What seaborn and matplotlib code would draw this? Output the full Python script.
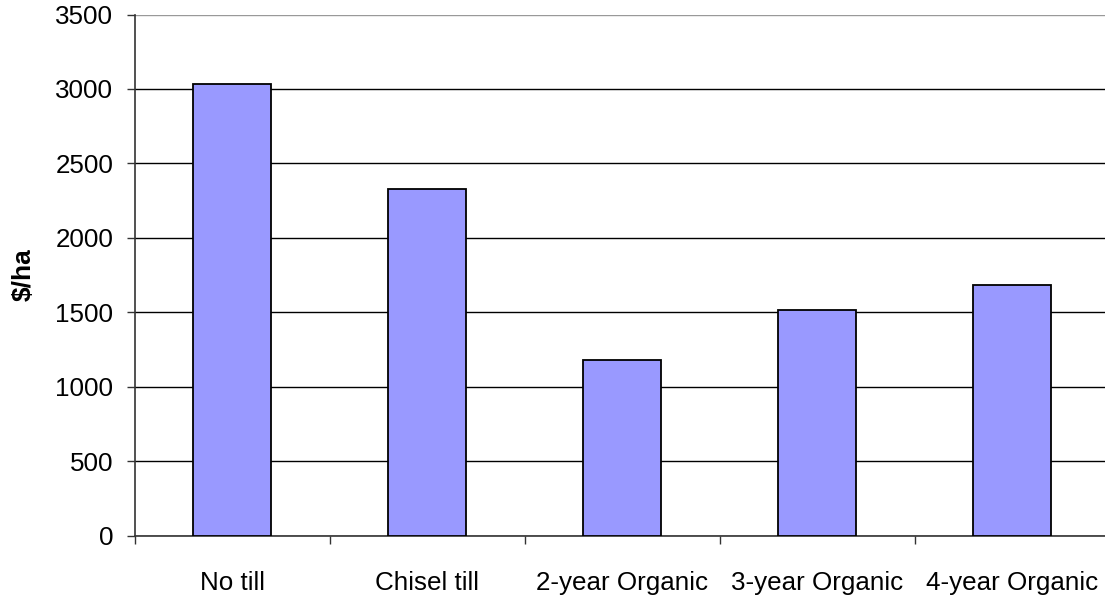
import matplotlib
matplotlib.use("Agg")
import matplotlib.pyplot as plt
import seaborn as sns
import pandas as pd
import numpy as np
from matplotlib.ticker import FixedLocator

categories = ["No till", "Chisel till", "2-year Organic", "3-year Organic", "4-year Organic"]
values = [3030, 2328, 1181, 1513, 1681]
yticks = [0, 500, 1000, 1500, 2000, 2500, 3000, 3500]

df = pd.DataFrame({"cat": categories, "val": values})

sns.set_style("white")
plt.rcParams["font.family"] = ["Liberation Sans", "DejaVu Sans"]
plt.rcParams["text.color"] = "black"
plt.rcParams["axes.labelcolor"] = "black"
plt.rcParams["xtick.color"] = "black"
plt.rcParams["ytick.color"] = "black"

FS = 18.7

fig = plt.figure(figsize=(11.05, 5.99), dpi=100)
ax = fig.add_axes([134.7 / 1105, (599 - 535.5) / 599, 975.0 / 1105, 521.0 / 599])

sns.barplot(data=df, x="cat", y="val", order=categories, color="#9999FF",
            width=0.4, edgecolor="black", linewidth=1.3, saturation=1, ax=ax, zorder=3)

ax.set_xlim(-0.5, 4.5)
ax.set_ylim(0, 3500)
ax.set_yticks(yticks)
ax.set_yticklabels([str(t) for t in yticks], fontsize=FS, color="black")
ax.yaxis.grid(True, color="black", linewidth=1.0)
ax.set_axisbelow(True)
for gl in ax.get_ygridlines():
    gl.set_zorder(1)
ax.get_ygridlines()[-1].set_color("#999999")

ax.set_xticks(range(len(categories)))
ax.set_xticklabels(categories, fontsize=FS, color="black")
ax.xaxis.set_minor_locator(FixedLocator(np.arange(-0.5, 5.0, 1.0)))
ax.tick_params(axis="x", which="major", length=0, pad=25.5, labelcolor="black")
ax.tick_params(axis="x", which="minor", length=6, width=1, color="#333333", direction="out", bottom=True)
ax.tick_params(axis="y", which="major", length=6, width=1, color="#333333", direction="out", left=True,
               pad=9.5, labelcolor="black")

for s in ["top", "right"]:
    ax.spines[s].set_visible(False)
for s in ["left", "bottom"]:
    ax.spines[s].set_color("#333333")
    ax.spines[s].set_linewidth(1.2)

ax.set_xlabel("")
ax.set_ylabel("$/ha", fontsize=19, fontweight="bold", va="center", color="black")
ax.yaxis.set_label_coords((24 - 134.7) / 975.0, (535.5 - 275) / 521.0)

fig.savefig("out.png", dpi=100)
